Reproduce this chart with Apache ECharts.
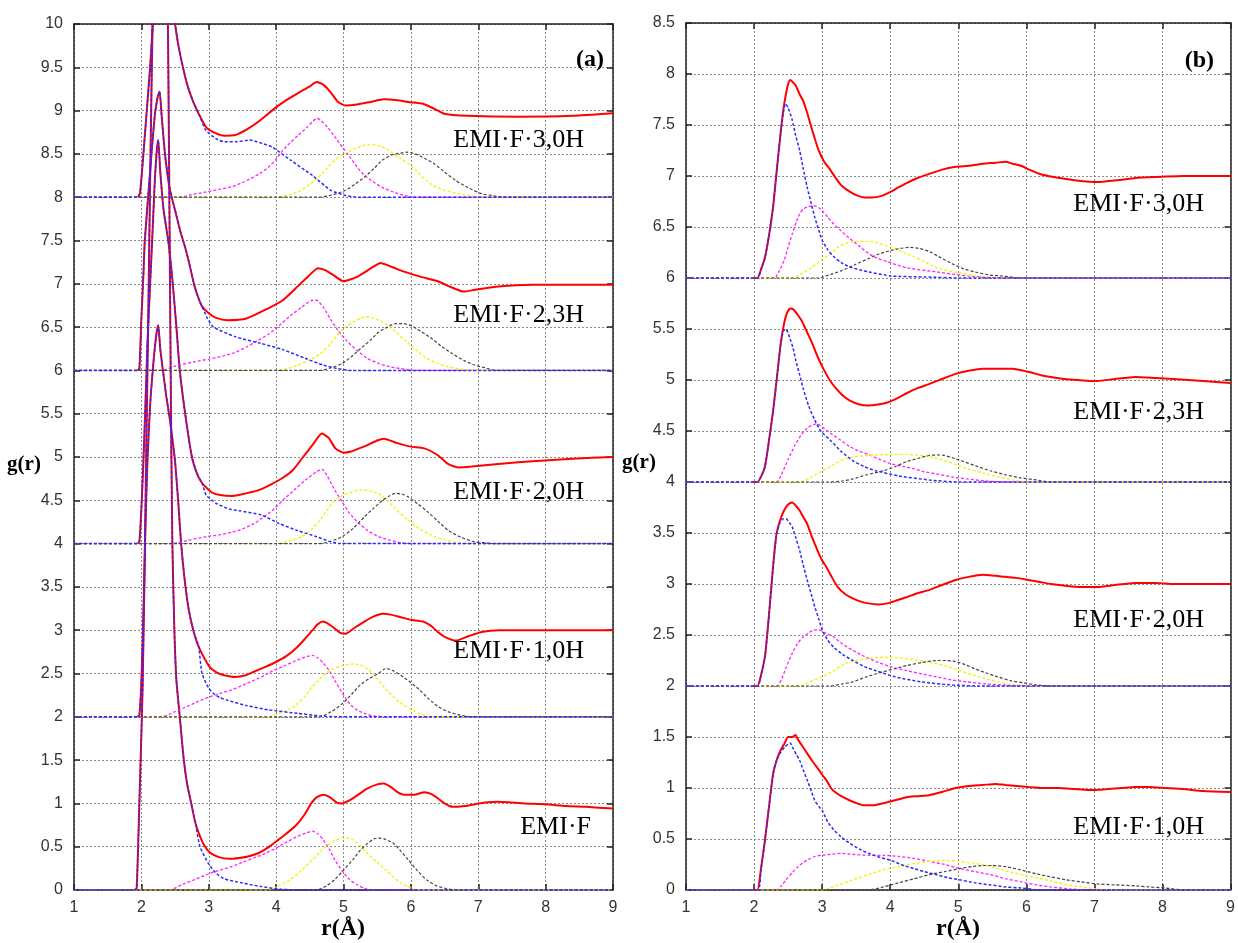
<!DOCTYPE html>
<html><head><meta charset="utf-8">
<script src="https://cdn.jsdelivr.net/npm/echarts/dist/echarts.min.js"></script>
<style>html,body{margin:0;padding:0;background:#fff}#c{width:1238px;height:943px}</style>
</head><body><div id="c"></div>
<script>
// ---------- axis settings ----------
const xMin = 1, xMax = 9, xStep = 1;
const yMaxA = 10, yMaxB = 8.5, yStep = 0.5;
const labelsA = ['EMI·F·3,0H','EMI·F·2,3H','EMI·F·2,0H','EMI·F·1,0H','EMI·F'];
const labelsB = ['EMI·F·3,0H','EMI·F·2,3H','EMI·F·2,0H','EMI·F·1,0H'];

// ---------- panel (a) ----------
// EMI·F (offset 0)
const aEMIF_peak = [[1.9,0],[1.93,0.02],[1.97,1.0],[2.0,1.8],[2.02,2.4],[2.05,3.8],[2.07,4.95],[2.1,6.5],[2.13,8.2],[2.17,10.2],[2.22,12],[2.28,12.8],[2.34,12.2],[2.38,11],[2.4,9.5],[2.42,7.5],[2.44,5.5],[2.46,4.0],[2.49,3.0],[2.52,2.42],[2.57,2.0],[2.63,1.5],[2.68,1.22],[2.74,1.0],[2.8,0.78]];
const aEMIF_redTail = [[2.87,0.62],[2.93,0.52],[3.02,0.43],[3.15,0.38],[3.3,0.36],[3.45,0.37],[3.6,0.39],[3.75,0.43],[3.9,0.5],[4.0,0.56],[4.15,0.65],[4.3,0.75],[4.43,0.88],[4.52,1.0],[4.6,1.07],[4.7,1.1],[4.8,1.07],[4.9,1.01],[4.98,1.0],[5.1,1.04],[5.2,1.09],[5.35,1.17],[5.5,1.22],[5.6,1.23],[5.7,1.19],[5.8,1.13],[5.9,1.1],[6.05,1.1],[6.2,1.13],[6.3,1.11],[6.4,1.06],[6.5,1.0],[6.62,0.96],[6.8,0.97],[6.95,0.99],[7.1,1.01],[7.3,1.02],[7.5,1.01],[7.7,1.0],[8.0,0.99],[8.3,0.97],[8.6,0.96],[9.0,0.94]];
const aEMIF_blueTail = [[2.87,0.5],[3.0,0.3],[3.1,0.2],[3.23,0.13],[3.5,0.08],[3.78,0.04],[4.05,0.01],[4.4,0],[9,0]];
const aEMIF_mag = [[1,0],[2.41,0],[2.6,0.06],[2.79,0.12],[3.01,0.19],[3.17,0.23],[3.34,0.27],[3.5,0.32],[3.67,0.37],[3.83,0.42],[3.99,0.48],[4.15,0.55],[4.32,0.62],[4.45,0.66],[4.54,0.68],[4.62,0.65],[4.7,0.58],[4.79,0.47],[4.87,0.35],[4.98,0.22],[5.09,0.12],[5.2,0.06],[5.31,0.02],[5.42,0],[9,0]];
const aEMIF_yel = [[1,0],[3.89,0],[4.05,0.05],[4.21,0.12],[4.38,0.23],[4.54,0.35],[4.68,0.46],[4.81,0.54],[4.9,0.58],[4.98,0.6],[5.06,0.6],[5.14,0.58],[5.25,0.51],[5.36,0.42],[5.5,0.32],[5.63,0.23],[5.74,0.15],[5.85,0.08],[5.95,0.04],[6.05,0.01],[6.15,0],[9,0]];
const aEMIF_gry = [[1,0],[4.6,0],[4.75,0.05],[4.87,0.12],[5.0,0.23],[5.14,0.35],[5.25,0.46],[5.36,0.54],[5.45,0.59],[5.52,0.6],[5.6,0.59],[5.74,0.54],[5.85,0.45],[5.96,0.35],[6.1,0.22],[6.23,0.12],[6.37,0.05],[6.51,0.02],[6.65,0],[9,0]];

// EMI·F·1,0H (offset 2)
const a10_peak = [[1.94,2.0],[1.97,2.02],[2.0,2.4],[2.03,3.2],[2.06,4.2],[2.09,4.95],[2.13,5.6],[2.18,6.1],[2.22,6.4],[2.25,6.52],[2.28,6.25],[2.32,6.0],[2.37,5.7],[2.42,5.45],[2.47,5.15],[2.5,4.95],[2.55,4.45],[2.59,4.0],[2.64,3.6],[2.7,3.25],[2.77,3.0],[2.85,2.81]];
const a10_redTail = [[3.01,2.58],[3.12,2.51],[3.23,2.48],[3.39,2.46],[3.55,2.48],[3.67,2.52],[3.85,2.58],[3.99,2.63],[4.15,2.7],[4.32,2.81],[4.45,2.92],[4.54,3.0],[4.62,3.07],[4.7,3.1],[4.8,3.06],[4.87,3.02],[4.95,2.97],[5.03,2.96],[5.15,3.02],[5.31,3.1],[5.45,3.16],[5.58,3.19],[5.7,3.18],[5.85,3.15],[6.0,3.12],[6.18,3.1],[6.3,3.05],[6.4,2.98],[6.51,2.92],[6.67,2.88],[6.85,2.93],[7.05,2.98],[7.3,3.0],[7.6,3.0],[8.5,3.0],[9.0,3.0]];
const a10_blueTail = [[2.9,2.5],[3.0,2.33],[3.07,2.27],[3.17,2.22],[3.28,2.19],[3.56,2.13],[3.89,2.08],[4.32,2.04],[4.65,2.01],[4.9,2.0],[9,2]];
const a10_mag = [[1,2],[2.3,2.0],[2.5,2.06],[2.68,2.12],[2.85,2.18],[3.01,2.23],[3.17,2.27],[3.34,2.31],[3.55,2.38],[3.78,2.46],[3.95,2.53],[4.1,2.58],[4.27,2.64],[4.43,2.69],[4.54,2.71],[4.62,2.68],[4.7,2.62],[4.8,2.52],[4.87,2.42],[4.98,2.28],[5.09,2.15],[5.2,2.08],[5.31,2.04],[5.45,2.01],[5.6,2.0],[9,2]];
const a10_yel = [[1,2],[3.89,2.0],[4.08,2.05],[4.27,2.12],[4.42,2.23],[4.54,2.35],[4.68,2.46],[4.81,2.54],[4.98,2.59],[5.14,2.61],[5.25,2.6],[5.36,2.55],[5.45,2.48],[5.52,2.42],[5.63,2.32],[5.74,2.23],[5.88,2.14],[6.02,2.08],[6.15,2.03],[6.29,2.0],[9,2]];
const a10_gry = [[1,2],[4.65,2.0],[4.82,2.06],[4.98,2.15],[5.12,2.26],[5.25,2.37],[5.38,2.44],[5.52,2.5],[5.63,2.56],[5.74,2.53],[5.85,2.48],[5.99,2.4],[6.13,2.31],[6.26,2.21],[6.4,2.12],[6.55,2.06],[6.73,2.02],[6.9,2.0],[9,2]];

// EMI·F·2,0H (offset 4)
const a20_peak = [[1.94,4.0],[1.97,4.02],[2.0,4.4],[2.03,4.95],[2.06,5.6],[2.09,6.3],[2.13,7.0],[2.16,7.5],[2.2,8.2],[2.23,8.55],[2.25,8.66],[2.28,8.3],[2.33,7.85],[2.4,7.49],[2.46,7.05],[2.52,6.5],[2.57,6.0],[2.65,5.5],[2.75,5.0],[2.83,4.8],[2.9,4.7]];
const a20_redTail = [[2.96,4.65],[3.05,4.59],[3.17,4.56],[3.35,4.55],[3.55,4.58],[3.75,4.62],[3.94,4.69],[4.1,4.76],[4.25,4.85],[4.4,5.0],[4.55,5.15],[4.68,5.27],[4.78,5.22],[4.88,5.1],[5.0,5.05],[5.1,5.06],[5.3,5.12],[5.5,5.19],[5.6,5.21],[5.8,5.16],[6.0,5.12],[6.2,5.1],[6.4,5.02],[6.55,4.92],[6.7,4.88],[6.9,4.89],[7.3,4.92],[7.8,4.95],[8.4,4.98],[9.0,5.0]];
const a20_blueTail = [[2.96,4.56],[3.05,4.5],[3.12,4.46],[3.3,4.4],[3.45,4.38],[3.78,4.33],[4.05,4.23],[4.32,4.15],[4.6,4.08],[4.81,4.02],[4.95,4.0],[9,4]];
const a20_mag = [[1,4],[2.46,4.0],[2.7,4.04],[2.96,4.08],[3.15,4.1],[3.34,4.13],[3.5,4.17],[3.67,4.23],[3.8,4.3],[3.94,4.38],[4.1,4.5],[4.27,4.62],[4.43,4.73],[4.6,4.83],[4.68,4.86],[4.76,4.78],[4.87,4.62],[4.98,4.48],[5.09,4.35],[5.22,4.24],[5.36,4.15],[5.52,4.08],[5.69,4.04],[5.85,4.01],[6.0,4.0],[9,4]];
const a20_yel = [[1,4],[4.0,4.0],[4.2,4.03],[4.38,4.08],[4.52,4.16],[4.65,4.27],[4.76,4.39],[4.87,4.5],[5.0,4.56],[5.14,4.6],[5.25,4.62],[5.38,4.61],[5.52,4.58],[5.66,4.49],[5.8,4.38],[5.96,4.27],[6.13,4.17],[6.3,4.1],[6.51,4.04],[6.7,4.01],[6.84,4.0],[9,4]];
const a20_gry = [[1,4],[4.65,4.0],[4.82,4.03],[4.98,4.08],[5.15,4.18],[5.31,4.31],[5.45,4.41],[5.58,4.5],[5.68,4.55],[5.77,4.58],[5.87,4.57],[5.96,4.54],[6.1,4.46],[6.23,4.38],[6.4,4.26],[6.56,4.15],[6.75,4.07],[6.95,4.02],[7.1,4.01],[7.22,4.0],[9,4]];

// EMI·F·2,3H (offset 6)
const a23_peak = [[1.94,6.0],[1.97,6.02],[2.0,6.6],[2.03,7.1],[2.05,7.49],[2.1,8.0],[2.15,8.5],[2.2,8.95],[2.24,9.15],[2.27,9.22],[2.3,8.95],[2.35,8.5],[2.42,8.1],[2.5,7.85],[2.58,7.6],[2.65,7.42],[2.7,7.27],[2.75,7.1],[2.79,6.97],[2.85,6.83],[2.9,6.74]];
const a23_redTail = [[3.0,6.66],[3.1,6.61],[3.28,6.58],[3.56,6.6],[3.89,6.72],[4.1,6.81],[4.32,6.97],[4.52,7.12],[4.62,7.18],[4.72,7.16],[4.85,7.1],[5.0,7.03],[5.2,7.08],[5.45,7.2],[5.55,7.24],[5.7,7.2],[5.9,7.14],[6.15,7.08],[6.4,7.03],[6.6,6.96],[6.78,6.91],[6.95,6.93],[7.3,6.97],[7.8,6.99],[9.0,6.99]];
const a23_blueTail = [[2.98,6.6],[3.07,6.5],[3.39,6.39],[3.78,6.31],[4.1,6.24],[4.43,6.14],[4.7,6.06],[4.92,6.02],[5.1,6.0],[9,6]];
const a23_mag = [[1,6],[2.3,6.0],[2.5,6.05],[2.79,6.1],[3.0,6.13],[3.23,6.17],[3.4,6.21],[3.56,6.27],[3.72,6.34],[3.89,6.42],[4.05,6.52],[4.21,6.63],[4.38,6.73],[4.54,6.81],[4.6,6.81],[4.7,6.73],[4.8,6.6],[4.92,6.46],[5.05,6.34],[5.2,6.23],[5.35,6.14],[5.52,6.08],[5.7,6.04],[5.85,6.02],[6.05,6.0],[9,6]];
const a23_yel = [[1,6],[4.0,6.0],[4.16,6.02],[4.32,6.06],[4.5,6.12],[4.65,6.19],[4.8,6.3],[4.92,6.42],[5.03,6.5],[5.14,6.56],[5.25,6.6],[5.33,6.62],[5.45,6.6],[5.58,6.56],[5.75,6.46],[5.91,6.35],[6.07,6.24],[6.23,6.14],[6.4,6.08],[6.56,6.04],[6.8,6.01],[7.0,6.0],[9,6]];
const a23_gry = [[1,6],[4.65,6.0],[4.82,6.03],[4.98,6.08],[5.12,6.16],[5.25,6.25],[5.4,6.35],[5.52,6.44],[5.65,6.5],[5.77,6.54],[5.9,6.54],[6.02,6.51],[6.15,6.45],[6.29,6.38],[6.45,6.28],[6.62,6.19],[6.8,6.11],[6.95,6.06],[7.1,6.03],[7.27,6.0],[9,6]];

// EMI·F·3,0H (offset 8)
const a30_peak = [[1.95,8.0],[1.98,8.05],[2.03,8.5],[2.08,9.0],[2.13,9.5],[2.17,10.0],[2.23,10.6],[2.3,10.9],[2.38,10.7],[2.45,10.3],[2.5,10.0],[2.55,9.75],[2.6,9.56],[2.68,9.3],[2.77,9.1],[2.86,8.95]];
const a30_redTail = [[2.97,8.8],[3.1,8.74],[3.23,8.71],[3.4,8.72],[3.56,8.78],[3.75,8.88],[3.97,9.02],[4.15,9.12],[4.32,9.2],[4.5,9.28],[4.6,9.33],[4.7,9.3],[4.8,9.22],[4.92,9.1],[5.03,9.06],[5.2,9.07],[5.4,9.1],[5.6,9.13],[5.8,9.12],[5.96,9.1],[6.18,9.08],[6.35,9.02],[6.51,8.96],[6.84,8.94],[7.6,8.93],[8.4,8.94],[9.0,8.97]];
const a30_blueTail = [[2.95,8.78],[3.1,8.68],[3.23,8.64],[3.4,8.64],[3.61,8.66],[3.8,8.62],[3.94,8.58],[4.21,8.43],[4.54,8.25],[4.81,8.08],[5.03,8.02],[5.2,8.0],[9,8]];
const a30_mag = [[1,8],[2.57,8.0],[2.75,8.03],[2.96,8.06],[3.15,8.09],[3.34,8.12],[3.5,8.17],[3.61,8.21],[3.75,8.27],[3.89,8.35],[4.0,8.44],[4.1,8.54],[4.21,8.63],[4.32,8.71],[4.45,8.8],[4.55,8.88],[4.6,8.91],[4.66,8.89],[4.76,8.81],[4.87,8.7],[4.98,8.58],[5.1,8.46],[5.2,8.35],[5.3,8.26],[5.42,8.19],[5.58,8.11],[5.74,8.06],[5.9,8.02],[6.05,8.0],[9,8]];
const a30_yel = [[1,8],[4.0,8.0],[4.15,8.02],[4.32,8.06],[4.46,8.13],[4.6,8.21],[4.74,8.32],[4.87,8.43],[4.98,8.49],[5.09,8.53],[5.2,8.57],[5.36,8.61],[5.5,8.6],[5.63,8.56],[5.8,8.47],[5.96,8.39],[6.1,8.29],[6.23,8.19],[6.37,8.12],[6.51,8.08],[6.7,8.04],[6.85,8.02],[7.0,8.0],[9,8]];
const a30_gry = [[1,8],[4.65,8.0],[4.85,8.03],[5.03,8.08],[5.17,8.15],[5.31,8.23],[5.45,8.33],[5.58,8.43],[5.72,8.49],[5.85,8.51],[5.95,8.52],[6.07,8.5],[6.2,8.45],[6.34,8.39],[6.5,8.29],[6.67,8.19],[6.85,8.11],[7.05,8.04],[7.2,8.02],[7.38,8.0],[9,8]];

// ---------- panel (b) ----------
// EMI·F·3,0H (offset 6)
const b30_red = [[2.0,6],[2.05,6.0],[2.1,6.08],[2.16,6.2],[2.22,6.42],[2.28,6.7],[2.34,7.1],[2.39,7.42],[2.43,7.65],[2.47,7.81],[2.5,7.9],[2.53,7.94],[2.57,7.92],[2.61,7.89],[2.67,7.8],[2.72,7.74],[2.78,7.62],[2.84,7.48],[2.9,7.35],[2.95,7.25],[3.03,7.14],[3.12,7.06],[3.2,6.98],[3.28,6.91],[3.4,6.85],[3.51,6.81],[3.62,6.79],[3.73,6.79],[3.85,6.8],[3.96,6.83],[4.1,6.88],[4.24,6.93],[4.4,6.98],[4.57,7.02],[4.75,7.06],[4.96,7.09],[5.15,7.1],[5.36,7.12],[5.55,7.13],[5.69,7.14],[5.8,7.12],[5.92,7.1],[6.05,7.06],[6.2,7.02],[6.4,6.99],[6.59,6.97],[6.8,6.95],[7.04,6.94],[7.2,6.95],[7.37,6.96],[7.6,6.98],[7.88,6.99],[8.3,7.0],[8.7,7.0],[9.0,7.0]];
const b30_blue = [[1,6],[2.05,6],[2.1,6.08],[2.16,6.2],[2.22,6.42],[2.28,6.7],[2.34,7.1],[2.39,7.42],[2.43,7.62],[2.46,7.71],[2.5,7.67],[2.56,7.55],[2.61,7.4],[2.67,7.25],[2.72,7.08],[2.78,6.89],[2.84,6.73],[2.89,6.6],[2.95,6.47],[3.0,6.37],[3.08,6.28],[3.17,6.21],[3.28,6.15],[3.4,6.11],[3.55,6.08],[3.68,6.06],[4.01,6.02],[4.52,6.01],[5.0,6.0],[9,6]];
const b30_mag = [[1,6],[2.3,6.0],[2.37,6.07],[2.44,6.17],[2.5,6.3],[2.56,6.43],[2.62,6.55],[2.67,6.63],[2.73,6.68],[2.8,6.7],[2.87,6.71],[2.95,6.69],[3.0,6.66],[3.08,6.6],[3.17,6.53],[3.28,6.46],[3.4,6.39],[3.55,6.31],[3.68,6.24],[3.82,6.19],[3.96,6.16],[4.24,6.1],[4.68,6.06],[5.13,6.02],[5.64,6.0],[9,6]];
const b30_yel = [[1,6],[2.56,6.0],[2.7,6.04],[2.84,6.1],[2.98,6.17],[3.12,6.24],[3.23,6.3],[3.34,6.34],[3.45,6.355],[3.56,6.36],[3.68,6.36],[3.79,6.35],[3.93,6.32],[4.07,6.29],[4.2,6.25],[4.35,6.21],[4.5,6.16],[4.68,6.1],[4.85,6.07],[5.02,6.05],[5.36,6.01],[5.6,6.0],[9,6]];
const b30_gry = [[1,6],[2.95,6.0],[3.1,6.03],[3.28,6.07],[3.48,6.13],[3.68,6.19],[3.85,6.24],[4.01,6.27],[4.15,6.29],[4.29,6.3],[4.43,6.29],[4.57,6.26],[4.74,6.2],[4.91,6.14],[5.08,6.09],[5.24,6.06],[5.45,6.03],[5.64,6.02],[5.92,6.0],[9,6]];

// EMI·F·2,3H (offset 4)
const b23_red = [[2.0,4],[2.05,4.0],[2.1,4.05],[2.16,4.15],[2.22,4.41],[2.28,4.7],[2.34,5.05],[2.39,5.35],[2.44,5.55],[2.48,5.65],[2.53,5.7],[2.58,5.69],[2.64,5.64],[2.7,5.58],[2.75,5.51],[2.8,5.44],[2.86,5.35],[2.92,5.25],[2.98,5.16],[3.05,5.07],[3.12,4.99],[3.2,4.92],[3.3,4.85],[3.4,4.8],[3.55,4.76],[3.68,4.75],[3.82,4.76],[3.96,4.78],[4.1,4.82],[4.24,4.87],[4.4,4.92],[4.57,4.96],[4.76,5.01],[4.96,5.06],[5.15,5.09],[5.36,5.11],[5.6,5.11],[5.8,5.11],[6.03,5.08],[6.2,5.05],[6.36,5.03],[6.56,5.01],[6.76,5.0],[7.04,4.99],[7.3,5.01],[7.6,5.03],[7.9,5.02],[8.16,5.01],[8.6,4.99],[9.0,4.97]];
const b23_blue = [[1,4],[2.05,4.0],[2.1,4.05],[2.16,4.15],[2.22,4.41],[2.28,4.7],[2.34,5.05],[2.39,5.35],[2.43,5.48],[2.47,5.5],[2.52,5.42],[2.57,5.32],[2.61,5.2],[2.67,5.05],[2.72,4.92],[2.8,4.75],[2.89,4.61],[2.98,4.5],[3.12,4.41],[3.28,4.3],[3.45,4.21],[3.62,4.15],[3.79,4.11],[4.12,4.06],[4.57,4.02],[5.0,4.0],[9,4]];
const b23_mag = [[1,4],[2.33,4.0],[2.42,4.1],[2.5,4.22],[2.6,4.36],[2.7,4.47],[2.8,4.54],[2.92,4.57],[3.0,4.54],[3.12,4.48],[3.25,4.42],[3.4,4.35],[3.55,4.3],[3.68,4.27],[3.85,4.22],[4.01,4.18],[4.2,4.15],[4.35,4.13],[4.5,4.1],[4.68,4.08],[4.9,4.05],[5.13,4.03],[5.4,4.01],[5.7,4.0],[9,4]];
const b23_yel = [[1,4],[2.67,4.0],[2.85,4.05],[3.0,4.11],[3.17,4.17],[3.34,4.23],[3.5,4.25],[3.68,4.26],[4.01,4.27],[4.25,4.27],[4.46,4.26],[4.63,4.24],[4.8,4.21],[4.97,4.17],[5.13,4.13],[5.35,4.09],[5.58,4.05],[5.8,4.02],[6.0,4.0],[9,4]];
const b23_gry = [[1,4],[3.12,4.0],[3.3,4.01],[3.45,4.03],[3.65,4.07],[3.9,4.11],[4.07,4.15],[4.24,4.2],[4.4,4.23],[4.57,4.26],[4.7,4.265],[4.8,4.26],[4.95,4.23],[5.08,4.2],[5.25,4.16],[5.47,4.11],[5.7,4.07],[5.92,4.04],[6.15,4.02],[6.36,4.0],[9,4]];

// EMI·F·2,0H (offset 2)
const b20_red = [[2.0,2],[2.05,2.0],[2.1,2.1],[2.16,2.29],[2.2,2.55],[2.25,2.94],[2.29,3.25],[2.33,3.49],[2.38,3.62],[2.44,3.72],[2.5,3.78],[2.56,3.8],[2.61,3.77],[2.67,3.72],[2.72,3.66],[2.78,3.59],[2.84,3.48],[2.9,3.38],[2.95,3.3],[3.0,3.23],[3.06,3.17],[3.14,3.07],[3.23,2.97],[3.34,2.9],[3.45,2.86],[3.56,2.83],[3.68,2.81],[3.82,2.8],[3.96,2.81],[4.1,2.84],[4.24,2.87],[4.4,2.91],[4.57,2.94],[4.76,2.99],[4.96,3.04],[5.15,3.07],[5.36,3.09],[5.55,3.08],[5.69,3.07],[5.86,3.06],[6.03,3.04],[6.2,3.02],[6.36,3.0],[6.6,2.98],[6.81,2.97],[7.04,2.97],[7.3,2.99],[7.6,3.01],[7.9,3.01],[8.16,3.0],[8.6,3.0],[9.0,3.0]];
const b20_blue = [[1,2],[2.05,2.0],[2.1,2.1],[2.16,2.29],[2.2,2.55],[2.25,2.94],[2.29,3.25],[2.33,3.49],[2.38,3.6],[2.43,3.64],[2.47,3.64],[2.52,3.6],[2.56,3.56],[2.61,3.46],[2.67,3.33],[2.72,3.19],[2.78,3.04],[2.84,2.9],[2.89,2.78],[2.95,2.66],[3.0,2.55],[3.08,2.45],[3.17,2.38],[3.3,2.31],[3.45,2.25],[3.62,2.19],[3.79,2.15],[4.07,2.09],[4.46,2.04],[4.91,2.01],[5.3,2.0],[9,2]];
const b20_mag = [[1,2],[2.33,2.0],[2.4,2.06],[2.47,2.18],[2.56,2.32],[2.64,2.42],[2.72,2.48],[2.8,2.52],[2.88,2.55],[2.95,2.55],[3.05,2.52],[3.17,2.48],[3.3,2.41],[3.45,2.35],[3.62,2.29],[3.79,2.24],[4.0,2.19],[4.24,2.15],[4.46,2.12],[4.68,2.09],[4.9,2.06],[5.13,2.04],[5.4,2.02],[5.69,2.01],[6.0,2.0],[9,2]];
const b20_yel = [[1,2],[2.67,2.0],[2.85,2.05],[3.0,2.09],[3.17,2.15],[3.34,2.22],[3.5,2.25],[3.68,2.27],[3.85,2.28],[4.01,2.28],[4.2,2.27],[4.35,2.26],[4.5,2.24],[4.68,2.22],[4.85,2.19],[5.02,2.15],[5.2,2.11],[5.36,2.08],[5.58,2.04],[5.8,2.01],[6.1,2.0],[9,2]];
const b20_gry = [[1,2],[3.12,2.0],[3.3,2.02],[3.45,2.04],[3.65,2.09],[3.9,2.14],[4.07,2.17],[4.24,2.2],[4.46,2.23],[4.68,2.25],[4.82,2.25],[4.96,2.24],[5.1,2.21],[5.24,2.17],[5.4,2.13],[5.58,2.09],[5.78,2.05],[5.97,2.03],[6.15,2.01],[6.36,2.0],[9,2]];

// EMI·F·1,0H (offset 0)
const b10_red = [[2.0,0],[2.05,0.0],[2.1,0.2],[2.16,0.49],[2.22,0.82],[2.28,1.14],[2.33,1.27],[2.39,1.37],[2.45,1.44],[2.5,1.5],[2.56,1.5],[2.61,1.52],[2.64,1.48],[2.67,1.45],[2.72,1.4],[2.78,1.34],[2.86,1.26],[2.95,1.18],[3.0,1.13],[3.06,1.08],[3.12,1.01],[3.17,0.97],[3.28,0.92],[3.4,0.88],[3.51,0.85],[3.62,0.83],[3.75,0.83],[3.9,0.85],[4.07,0.88],[4.24,0.91],[4.4,0.92],[4.57,0.93],[4.76,0.96],[4.96,1.0],[5.15,1.02],[5.36,1.03],[5.55,1.04],[5.69,1.03],[5.86,1.02],[6.03,1.01],[6.25,1.0],[6.48,1.0],[6.7,0.99],[6.92,0.98],[7.2,0.99],[7.4,1.0],[7.6,1.01],[7.8,1.01],[8.04,1.0],[8.3,0.99],[8.6,0.97],[9.0,0.96]];
const b10_blue = [[1,0],[2.05,0.0],[2.1,0.2],[2.16,0.49],[2.22,0.82],[2.28,1.14],[2.33,1.27],[2.39,1.35],[2.45,1.4],[2.5,1.43],[2.53,1.44],[2.58,1.38],[2.62,1.33],[2.67,1.27],[2.72,1.18],[2.78,1.08],[2.84,0.97],[2.89,0.88],[2.95,0.82],[3.0,0.78],[3.08,0.67],[3.17,0.59],[3.28,0.52],[3.4,0.46],[3.55,0.4],[3.68,0.36],[3.85,0.32],[4.01,0.29],[4.2,0.24],[4.35,0.21],[4.5,0.18],[4.68,0.15],[4.85,0.12],[5.02,0.1],[5.25,0.07],[5.47,0.05],[5.7,0.03],[5.92,0.02],[6.2,0.0],[9,0]];
const b10_mag = [[1,0],[2.33,0],[2.4,0.04],[2.47,0.1],[2.56,0.17],[2.65,0.23],[2.72,0.27],[2.8,0.3],[2.9,0.33],[3.0,0.34],[3.15,0.35],[3.28,0.36],[3.45,0.35],[3.68,0.34],[3.9,0.34],[4.12,0.33],[4.35,0.31],[4.57,0.28],[4.8,0.25],[5.02,0.21],[5.25,0.18],[5.47,0.15],[5.7,0.11],[5.92,0.08],[6.15,0.05],[6.36,0.03],[6.65,0.01],[6.92,0],[9,0]];
const b10_yel = [[1,0],[3.0,0],[3.2,0.04],[3.45,0.1],[3.68,0.15],[3.9,0.2],[4.12,0.23],[4.35,0.26],[4.57,0.28],[4.8,0.29],[5.0,0.285],[5.13,0.27],[5.35,0.25],[5.58,0.21],[5.8,0.17],[6.08,0.13],[6.35,0.09],[6.59,0.05],[6.8,0.03],[7.04,0.01],[7.3,0],[9,0]];
const b10_gry = [[1,0],[3.68,0],[3.9,0.03],[4.12,0.07],[4.35,0.11],[4.57,0.15],[4.8,0.18],[5.02,0.21],[5.2,0.23],[5.36,0.24],[5.5,0.24],[5.69,0.23],[5.9,0.2],[6.14,0.16],[6.35,0.13],[6.59,0.1],[6.8,0.08],[7.04,0.06],[7.3,0.05],[7.6,0.04],[7.8,0.03],[8.04,0.02],[8.32,0.0],[9,0]];

// ---------- build ----------
const STY = {
  red:  {color:'#ff0000', width:2,   type:'solid'},
  mag:  {color:'#ff22ff', width:1.3, type:[3,2]},
  yel:  {color:'#f2f200', width:1.3, type:[3,2]},
  gry:  {color:'#444444', width:1.2, type:[3,2]},
  blue: {color:'#2a2aff', width:1.5, type:[3,2]}
};
function ln(data, key, ax, z){
  return {type:'line', data:data, xAxisIndex:ax, yAxisIndex:ax, showSymbol:false, symbol:'none',
    smooth:0.2, clip:true, lineStyle:STY[key], z:z, silent:true, animation:false};
}
const series = [];
const panelA = [
  {peak:aEMIF_peak, rt:aEMIF_redTail, bt:aEMIF_blueTail, m:aEMIF_mag, y:aEMIF_yel, g:aEMIF_gry, o:0},
  {peak:a10_peak, rt:a10_redTail, bt:a10_blueTail, m:a10_mag, y:a10_yel, g:a10_gry, o:2},
  {peak:a20_peak, rt:a20_redTail, bt:a20_blueTail, m:a20_mag, y:a20_yel, g:a20_gry, o:4},
  {peak:a23_peak, rt:a23_redTail, bt:a23_blueTail, m:a23_mag, y:a23_yel, g:a23_gry, o:6},
  {peak:a30_peak, rt:a30_redTail, bt:a30_blueTail, m:a30_mag, y:a30_yel, g:a30_gry, o:8}
];
panelA.forEach(c => {
  series.push(ln(c.peak.concat(c.rt), 'red', 0, 2));
  series.push(ln(c.m, 'mag', 0, 3));
  series.push(ln(c.y, 'yel', 0, 3));
  series.push(ln(c.g, 'gry', 0, 3));
  series.push(ln([[1, c.o]].concat(c.peak, c.bt), 'blue', 0, 4));
});
const panelB = [
  {r:b10_red, b:b10_blue, m:b10_mag, y:b10_yel, g:b10_gry},
  {r:b20_red, b:b20_blue, m:b20_mag, y:b20_yel, g:b20_gry},
  {r:b23_red, b:b23_blue, m:b23_mag, y:b23_yel, g:b23_gry},
  {r:b30_red, b:b30_blue, m:b30_mag, y:b30_yel, g:b30_gry}
];
panelB.forEach(c => {
  series.push(ln(c.r, 'red', 2, 2));
  series.push(ln(c.m, 'mag', 2, 3));
  series.push(ln(c.y, 'yel', 2, 3));
  series.push(ln(c.g, 'gry', 2, 3));
  series.push(ln(c.b, 'blue', 2, 4));
});

const LBL = {fontFamily:'Liberation Sans', fontSize:16, color:'#333'};
const FRAME = {show:true, onZero:false, lineStyle:{color:'#222', width:1.5}};
const TICK = {show:true, inside:true, length:6, lineStyle:{color:'#222', width:1.5}};
const GRIDL = {show:true, lineStyle:{color:'#8a8a8a', width:1, type:[2,2]}};
function xAx(grid, pos, main){
  return {type:'value', gridIndex:grid, position:pos, min:xMin, max:xMax, interval:xStep,
    axisLine:FRAME, axisTick:TICK, axisLabel:Object.assign({show:main, margin:10}, LBL),
    splitLine: main ? GRIDL : {show:false}};
}
function yAx(grid, pos, main, max){
  return {type:'value', gridIndex:grid, position:pos, min:0, max:max, interval:yStep,
    axisLine:FRAME, axisTick:TICK, axisLabel:Object.assign({show:main, margin:11}, LBL),
    splitLine: main ? GRIDL : {show:false}};
}
const serif = 'Liberation Serif';
function txt(x, y, s, size, bold, align){
  return {type:'text', x:x, y:y, silent:true, z:10,
    style:{text:s, fill:'#000', font:(bold?'bold ':'')+size+'px "'+serif+'"', textAlign:align||'right', textVerticalAlign:'middle'}};
}
const option = {
  backgroundColor:'#fff',
  animation:false,
  grid:[
    {left:74, top:24, width:539, height:866},
    {left:686, top:23, width:545, height:867}
  ],
  xAxis:[xAx(0,'bottom',true), xAx(0,'top',false), xAx(1,'bottom',true), xAx(1,'top',false)],
  yAxis:[yAx(0,'left',true,yMaxA), yAx(0,'right',false,yMaxA), yAx(1,'left',true,yMaxB), yAx(1,'right',false,yMaxB)],
  series:series,
  graphic:[
    txt(584,140,labelsA[0],26,false), txt(584,315,labelsA[1],26,false), txt(584,492,labelsA[2],26,false),
    txt(584,651,labelsA[3],26,false), txt(591,827,labelsA[4],26,false),
    txt(1204,204,labelsB[0],26,false), txt(1204,412,labelsB[1],26,false), txt(1204,620,labelsB[2],26,false), txt(1204,827,labelsB[3],26,false),
    txt(604,60,'(a)',24,true), txt(1214,61,'(b)',24,true),
    txt(24,465,'g(r)',21,true,'center'), txt(639,463,'g(r)',21,true,'center'),
    txt(343,929,'r(Å)',24,true,'center'), txt(958,929,'r(Å)',24,true,'center')
  ]
};
const chart = echarts.init(document.getElementById('c'), null, {renderer:'canvas'});
chart.setOption(option);
</script></body></html>
